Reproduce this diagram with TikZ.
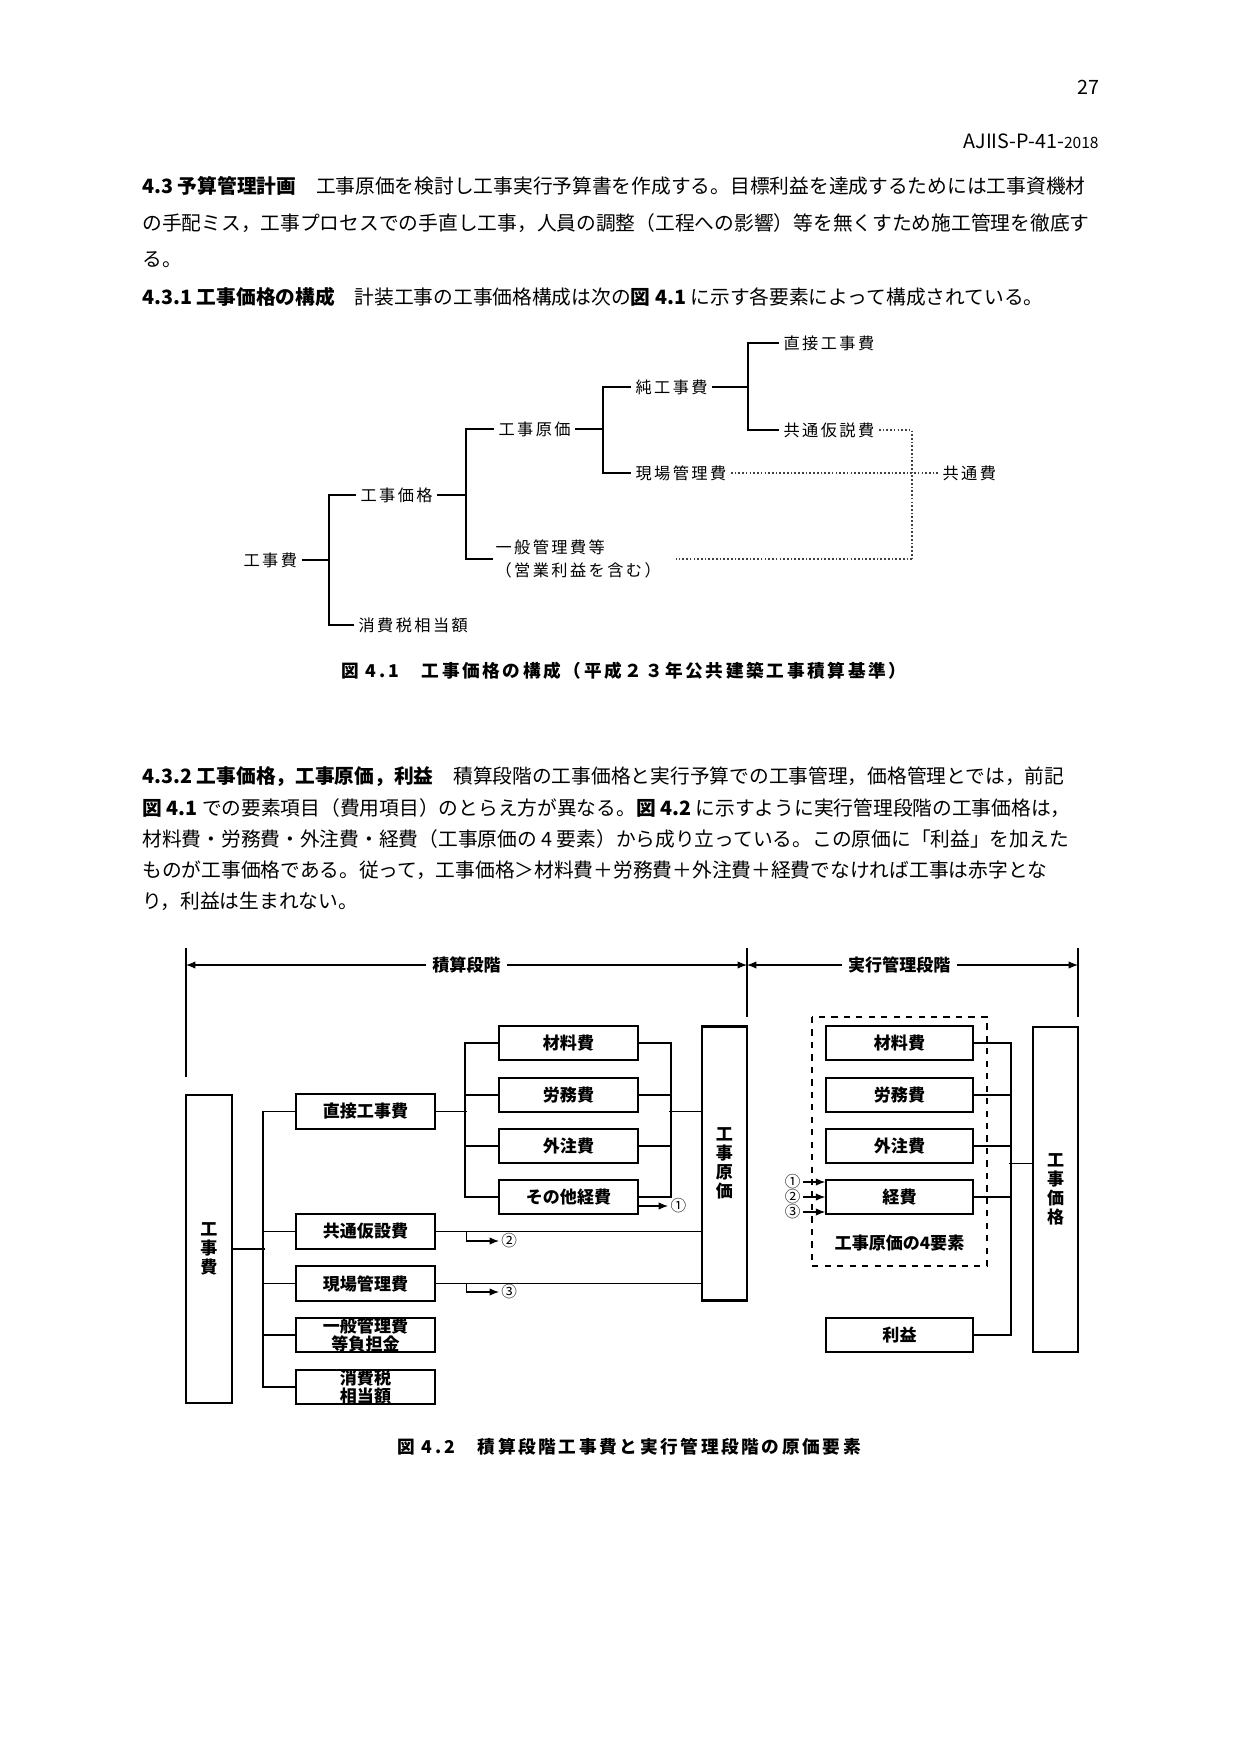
\documentclass[tikz,border=0pt]{standalone}
\usepackage{fontspec}
\setmainfont{Noto Sans CJK JP}
\newfontfamily\spacedjp[LetterSpace=15]{Noto Sans CJK JP}
\usetikzlibrary{arrows.meta}

\tikzset{
  body/.style={anchor=west, inner sep=0pt, font=\fontsize{9.5}{11}\selectfont},
  caption/.style={anchor=west, inner sep=0pt, font=\spacedjp\fontsize{8.5}{10}\selectfont\bfseries},
  tree/.style={anchor=west, inner sep=2pt, font=\spacedjp\fontsize{7.8}{11}\selectfont},
  treeline/.style={line width=0.7pt},
  dotline/.style={line width=0.8pt, densely dotted, black!75},
  costbox/.style={draw, line width=1pt, minimum width=66.7pt, minimum height=16.6pt,
    inner sep=0pt, align=center, font=\fontsize{8.2}{8.4}\selectfont\bfseries},
  tallbox/.style={draw, line width=1pt, minimum width=21.8pt, inner sep=0pt,
    align=center, font=\fontsize{8.2}{9.2}\selectfont\bfseries},
  link/.style={line width=0.8pt},
  thinlink/.style={line width=0.5pt},
  circnum/.style={inner sep=1pt, font=\fontsize{7.5}{8}\selectfont},
}

\begin{document}
\begin{tikzpicture}[x=0.016922cm, y=-0.016922cm, >={Latex[length=4.5pt,width=3.5pt]}]
  \fill[white] (0,0) rectangle (1241,1754);
  \useasboundingbox (0,0) rectangle (1241,1754);

  % header
  \node[anchor=east, inner sep=0pt, font=\fontsize{9.5}{11}\selectfont] (pageno) at (1100,87) {27};
  \node[anchor=east, inner sep=0pt, font=\fontsize{9.5}{11}\selectfont] (docno) at (1099,141) {AJIIS-P-41-{\fontsize{7.5}{9}\selectfont 2018}};

  % 4.3 / 4.3.1
  \node[body] (pa1) at (142,186) {{\bfseries 4.3 予算管理計画}　工事原価を検討し工事実行予算書を作成する。目標利益を達成するためには工事資機材};
  \node[body] (pa2) at (142,223) {の手配ミス，工事プロセスでの手直し工事，人員の調整（工程への影響）等を無くすため施工管理を徹底す};
  \node[body] (pa3) at (142,260) {る。};
  \node[body] (pa4) at (142,297) {{\bfseries 4.3.1 工事価格の構成}　計装工事の工事価格構成は次の{\bfseries 図 4.1} に示す各要素によって構成されている。};

  % fig 4.1
  \node[tree] (d1koujihi) at (239,560) {工事費};
  \node[tree] (d1kakaku) at (356,495) {工事価格};
  \node[tree] (d1shouhi) at (354,625) {消費税相当額};
  \node[tree] (d1genka) at (494,429) {工事原価};
  \node[tree, align=left, inner sep=1pt] (d1ippan) at (493,559) {一般管理費等\\（営業利益を含む）};
  \node[tree] (d1jun) at (631,387) {純工事費};
  \node[tree] (d1genba) at (631,473) {現場管理費};
  \node[tree] (d1choku) at (779,343) {直接工事費};
  \node[tree] (d1kari) at (779,430) {共通仮説費};
  \node[tree] (d1kyoutsuu) at (938,473) {共通費};
  \coordinate (b1) at (329,560);
  \coordinate (b2) at (466,495);
  \coordinate (b3) at (603,429);
  \coordinate (b4) at (748,387);
  \coordinate (dv) at (912,559);
  \draw[treeline] (d1koujihi.east) -- (b1);
  \draw[treeline] (d1kakaku.west) -| (b1) |- (d1shouhi.west);
  \draw[treeline] (d1kakaku.east) -- (b2);
  \draw[treeline] (d1genka.west) -| (b2) |- (d1ippan.west);
  \draw[treeline] (d1genka.east) -- (b3);
  \draw[treeline] (d1jun.west) -| (b3) |- (d1genba.west);
  \draw[treeline] (d1jun.east) -- (b4);
  \draw[treeline] (d1choku.west) -| (b4) |- (d1kari.west);
  \draw[dotline] (d1kari.east) -| (dv);
  \draw[dotline, shorten >=6pt] (dv) -- (d1ippan.east);
  \draw[dotline] (d1genba.east) -- (d1kyoutsuu.west);
  \node[caption] (cap1) at (341,671) {図 4.1　工事価格の構成（平成２３年公共建築工事積算基準）};

  % 4.3.2
  \node[body] (pb1) at (142,777) {{\bfseries 4.3.2 工事価格，工事原価，利益}　積算段階の工事価格と実行予算での工事管理，価格管理とでは，前記};
  \node[body] (pb2) at (142,808) {{\bfseries 図 4.1} での要素項目（費用項目）のとらえ方が異なる。{\bfseries 図 4.2} に示すように実行管理段階の工事価格は，};
  \node[body] (pb3) at (142,839) {材料費・労務費・外注費・経費（工事原価の 4 要素）から成り立っている。この原価に「利益」を加えた};
  \node[body] (pb4) at (142,870) {ものが工事価格である。従って，工事価格＞材料費＋労務費＋外注費＋経費でなければ工事は赤字とな};
  \node[body] (pb5) at (142,901) {り，利益は生まれない。};

  % fig 4.2: stage arrows
  \coordinate (dimL) at (186,965);
  \coordinate (dimM) at (747,965);
  \coordinate (dimR) at (1078,965);
  \draw[line width=0.9pt] (dimL) ++(0,-17) -- ++(0,129);
  \draw[line width=0.9pt] (dimM) ++(0,-17) -- ++(0,69);
  \draw[line width=0.9pt] (dimR) ++(0,-17) -- ++(0,69);
  \draw[thinlink, <->] (dimL) -- (dimM)
    node[midway, fill=white, inner sep=3pt, font=\fontsize{8.2}{9}\selectfont\bfseries] (stage1) {積算段階};
  \draw[thinlink, <->] (dimM) -- (dimR)
    node[pos=0.46, fill=white, inner sep=3pt, font=\fontsize{8.2}{9}\selectfont\bfseries] (stage2) {実行管理段階};

  % fig 4.2: estimate side
  \node[tallbox, minimum width=22.1pt, minimum height=148.7pt] (koujihi) at (209,1249) {工\\事\\費};
  \node[costbox] (chokusetsu) at (365.5,1111.5) {直接工事費};
  \node[costbox] (kyoutsuu) at (365.5,1231.5) {共通仮設費};
  \node[costbox] (genba) at (365.5,1283.5) {現場管理費};
  \node[costbox] (ippan) at (365.5,1335) {一般管理費\\等負担金};
  \node[costbox] (shouhi) at (365.5,1387) {消費税\\相当額};
  \node[costbox] (zairyo) at (568.5,1043) {材料費};
  \node[costbox] (roumu) at (568.5,1095) {労務費};
  \node[costbox] (gaichu) at (568.5,1146) {外注費};
  \node[costbox] (sonota) at (568.5,1197) {その他経費};
  \node[tallbox, minimum height=131.9pt] (genka) at (724.5,1163.5) {工\\事\\原\\価};
  \node[circnum, anchor=west] (c1) at (668,1206) {①};
  \node[circnum, anchor=west] (c2) at (499,1241) {②};
  \node[circnum, anchor=west] (c3) at (499,1292) {③};

  \draw[link] (koujihi.east) -- ++(32,0);
  \draw[link] (chokusetsu.west) -- ++(-32,0) |- (shouhi.west);
  \foreach \b in {kyoutsuu,genba,ippan}
    \draw[link] (\b.west) -- ++(-32,0);
  \draw[link] (chokusetsu.east) -- ++(31,0);
  \draw[link] (zairyo.west) -- ++(-33,0) |- (sonota.west);
  \foreach \b in {roumu,gaichu}
    \draw[link] (\b.west) -- ++(-33,0);
  \draw[link] (zairyo.east) -- ++(32,0) |- (sonota.east);
  \foreach \b in {roumu,gaichu}
    \draw[link] (\b.east) -- ++(32,0);
  \draw[link] (genka.west |- chokusetsu) -- ++(-32,0);
  \draw[link] (kyoutsuu.east) -- (genka.west |- kyoutsuu);
  \draw[link] (genba.east) -- (genka.west |- genba);
  \draw[thinlink, ->] (sonota.east |- c1) -- (c1.west);
  \draw[thinlink, ->] (kyoutsuu.east) ++(31,0) |- (c2.west);
  \draw[thinlink, ->] (genba.east) ++(31,0) |- (c3.west);

  % fig 4.2: execution side
  \draw[line width=0.6pt, dashed] (812,1017) rectangle (987,1266);
  \node[costbox, minimum width=70.5pt] (zairyo2) at (899.5,1043) {材料費};
  \node[costbox, minimum width=70.5pt] (roumu2) at (899.5,1095) {労務費};
  \node[costbox, minimum width=70.5pt] (gaichu2) at (899.5,1146) {外注費};
  \node[costbox, minimum width=70.5pt] (keihi) at (899.5,1197) {経費};
  \node[font=\fontsize{8.2}{9}\selectfont\bfseries] (fourel) at (899.5,1243) {工事原価の4要素};
  \node[costbox, minimum width=70.5pt] (rieki) at (899.5,1335) {利益};
  \node[tallbox, minimum height=156.9pt] (kakaku) at (1055.5,1189.5) {工\\事\\価\\格};
  \node[circnum, anchor=east] (r1) at (803,1182) {①};
  \node[circnum, anchor=east] (r2) at (803,1197) {②};
  \node[circnum, anchor=east] (r3) at (803,1212) {③};
  \foreach \r in {r1,r2,r3}
    \draw[thinlink, ->] (\r.east) -- (\r.east -| keihi.west);
  \draw[link] (zairyo2.east) -- ++(37,0) |- (rieki.east);
  \foreach \b in {roumu2,gaichu2,keihi}
    \draw[link] (\b.east) -- ++(37,0);
  \draw[link] (kakaku.west |- genka) -- ++(-23,0);

  \node[caption] (cap2) at (397,1447) {図 4.2　積算段階工事費と実行管理段階の原価要素};
\end{tikzpicture}
\end{document}
